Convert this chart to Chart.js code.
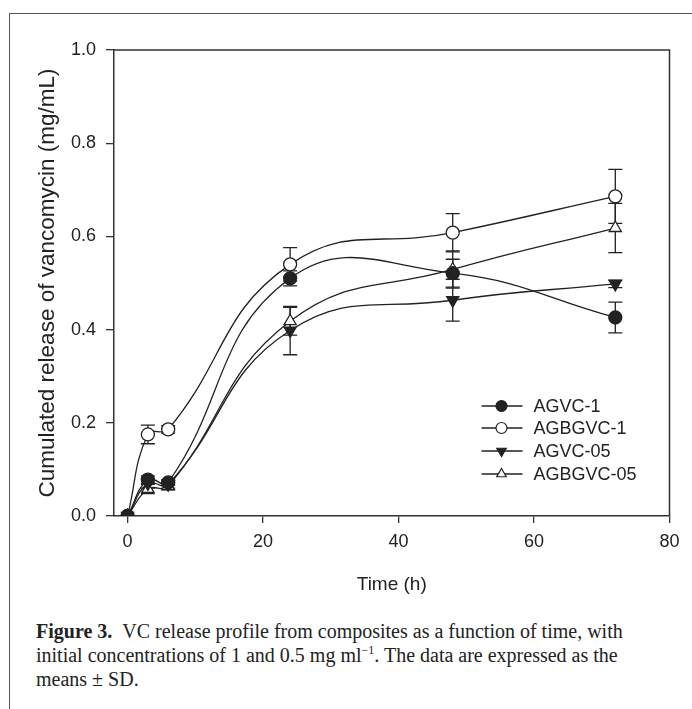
<!DOCTYPE html>
<html>
<head>
<meta charset="utf-8">
<script src="https://cdn.jsdelivr.net/npm/chart.js@4.4.1/dist/chart.umd.min.js"></script>
<style>
  html, body { margin: 0; padding: 0; background: #fff; }
  body { width: 692px; height: 709px; position: relative; overflow: hidden; }
  #frame { position: absolute; left: 9px; top: 13px; width: 700px; height: 720px;
           border-left: 1.5px solid #555; border-top: 1.5px solid #555; }
  #wrap { position: absolute; left: 0; top: 0; width: 692px; height: 600px; }
  #caption { position: absolute; left: 36px; top: 619px; font-family: "Liberation Serif", serif;
             font-size: 20px; line-height: 24px; color: #222; white-space: nowrap; }
  #caption b { font-weight: bold; }
  #caption sup { font-size: 12px; line-height: 0; }
</style>
</head>
<body>
<div id="frame"></div>
<div id="wrap"><canvas id="myChart"></canvas></div>
<div id="caption"><b>Figure 3.</b>&nbsp;&nbsp;VC release profile from composites as a function of time, with<br>initial concentrations of 1 and 0.5 mg ml<sup>−1</sup>. The data are expressed as the<br>means ± SD.</div>
<script>
// sampling times (h)
const time = [0, 3, 6, 24, 48, 72];

// cumulated release (mg/mL) and SD
const agvc1 = [0, 0.078, 0.072, 0.510, 0.521, 0.426];
const agvc1Sd = [0, 0.008, 0.006, 0.016, 0.030, 0.033];
const agbgvc1 = [0, 0.175, 0.186, 0.540, 0.608, 0.686];
const agbgvc1Sd = [0, 0.020, 0.008, 0.036, 0.041, 0.058];
const agvc05 = [0, 0.070, 0.068, 0.398, 0.463, 0.498];
const agvc05Sd = [0, 0.010, 0.008, 0.052, 0.045, 0.008];
const agbgvc05 = [0, 0.058, 0.064, 0.418, 0.529, 0.618];
const agbgvc05Sd = [0, 0.010, 0.008, 0.030, 0.040, 0.053];

const xTicks = [0, 20, 40, 60, 80];
const yTicks = [0, 0.2, 0.4, 0.6, 0.8, 1.0];

const ink = "#222";
const FONT = "'Liberation Sans', Arial, sans-serif";

const errorsAndLegend = {
  id: "errorsAndLegend",
  beforeDatasetsDraw(chart) {
    const ctx = chart.ctx;
    const xs = chart.scales.x, ys = chart.scales.y;
    ctx.save();
    ctx.strokeStyle = ink;
    ctx.lineWidth = 1.3;
    chart.data.datasets.forEach(ds => {
      ds.values.forEach((v, i) => {
        const sd = ds.sd[i];
        if (!sd) return;
        const px = xs.getPixelForValue(time[i]);
        const top = ys.getPixelForValue(v + sd), bot = ys.getPixelForValue(v - sd);
        ctx.beginPath();
        ctx.moveTo(px, top); ctx.lineTo(px, bot);
        ctx.moveTo(px - 7, top); ctx.lineTo(px + 7, top);
        ctx.moveTo(px - 7, bot); ctx.lineTo(px + 7, bot);
        ctx.stroke();
      });
    });
    ctx.restore();
  },
  afterDraw(chart) {
    const ctx = chart.ctx, area = chart.chartArea;
    ctx.save();
    // top and right frame
    ctx.strokeStyle = "#333";
    ctx.lineWidth = 1.5;
    ctx.beginPath();
    ctx.moveTo(area.left, area.top); ctx.lineTo(area.right, area.top); ctx.lineTo(area.right, area.bottom);
    ctx.stroke();
    // legend inside plot
    const rowY = [110, 88, 65, 42];
    chart.data.datasets.forEach((ds, i) => {
      const y = area.bottom - rowY[i];
      const x0 = area.right - 188;
      ctx.strokeStyle = ink;
      ctx.lineWidth = 1.3;
      ctx.beginPath();
      ctx.moveTo(x0, y); ctx.lineTo(x0 + 41, y);
      ctx.stroke();
      ctx.fillStyle = ds.pointBackgroundColor;
      ctx.strokeStyle = ink;
      ctx.lineWidth = 1.2;
      Chart.helpers.drawPoint(ctx, {
        pointStyle: ds.pointStyle, radius: 5.5, rotation: ds.pointRotation || 0, borderWidth: 1.2
      }, x0 + 20, y);
      ctx.fillStyle = ink;
      ctx.font = "18px " + FONT;
      ctx.textBaseline = "middle";
      ctx.textAlign = "left";
      ctx.fillText(ds.label, area.right - 136, y + 1);
    });
    ctx.restore();
  }
};

function series(label, values, sd, style, fill, rot) {
  return {
    label: label,
    values: values,
    sd: sd,
    data: time.map((t, i) => ({ x: t, y: values[i] })),
    showLine: true,
    tension: 0.45,
    borderWidth: 1.3,
    pointStyle: style,
    pointRotation: rot || 0,
    pointRadius: style === "circle" ? 6.5 : 7,
    pointBorderWidth: 1.3,
    pointBorderColor: ink,
    pointBackgroundColor: fill,
    borderColor: ink,
    backgroundColor: fill
  };
}

const ctx = document.getElementById("myChart").getContext("2d");
new Chart(ctx, {
  type: "scatter",
  data: {
    datasets: [
      series("AGVC-1", agvc1, agvc1Sd, "circle", ink),
      series("AGBGVC-1", agbgvc1, agbgvc1Sd, "circle", "#fff"),
      series("AGVC-05", agvc05, agvc05Sd, "triangle", ink, 180),
      series("AGBGVC-05", agbgvc05, agbgvc05Sd, "triangle", "#fff")
    ]
  },
  options: {
    responsive: true,
    maintainAspectRatio: false,
    animation: false,
    events: [],
    layout: { padding: { left: 0, top: 50, right: 22.5, bottom: 0 } },
    plugins: { legend: { display: false }, tooltip: { enabled: false } },
    scales: {
      x: {
        type: "linear",
        min: -2,
        max: 80,
        afterBuildTicks: s => { s.ticks = xTicks.map(v => ({ value: v })); },
        afterFit: s => { s.height = 84; },
        ticks: { color: ink, font: { family: FONT, size: 18 }, padding: 8, maxRotation: 0 },
        grid: { drawOnChartArea: false, tickLength: 7, color: "#333", lineWidth: 1.3 },
        border: { color: "#333", width: 1.5 },
        title: { display: true, text: "Time (h)", color: ink, font: { family: FONT, size: 19 }, padding: { top: 12 } }
      },
      y: {
        min: 0,
        max: 1,
        afterBuildTicks: s => { s.ticks = yTicks.map(v => ({ value: v })); },
        afterFit: s => { s.width = 114; },
        ticks: { color: ink, font: { family: FONT, size: 18 }, padding: 10, callback: v => v.toFixed(1) },
        grid: { drawOnChartArea: false, tickLength: 8, color: "#333", lineWidth: 1.3 },
        border: { color: "#333", width: 1.5 },
        title: { display: true, text: "Cumulated release of vancomycin (mg/mL)", color: ink,
                 font: { family: FONT, size: 22.5 }, padding: { top: 34, bottom: 0 } }
      }
    }
  },
  plugins: [errorsAndLegend]
});
</script>
</body>
</html>
